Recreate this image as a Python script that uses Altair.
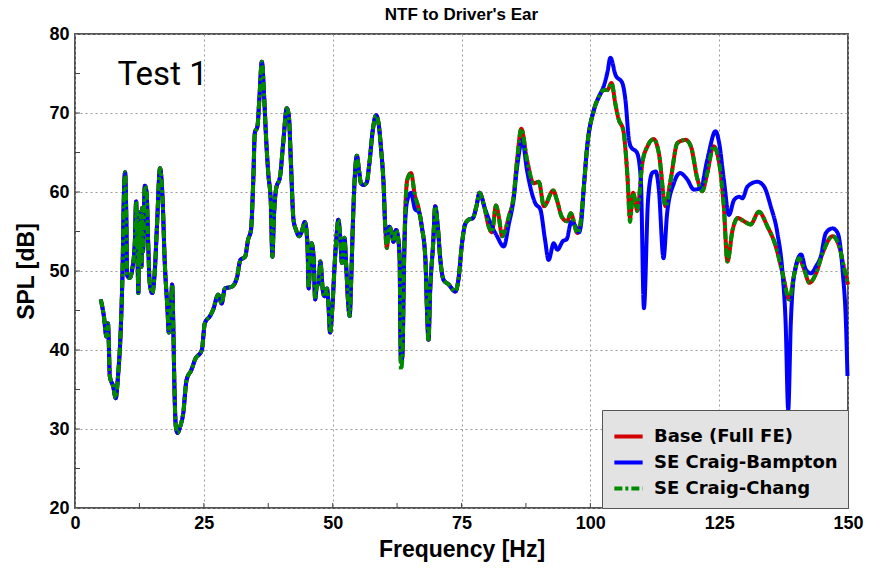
import altair as alt
import pandas as pd

# ---------------- data ----------------
series_names = ["Base (Full FE)", "SE Craig-Bampton", "SE Craig-Chang"]
series_colors = ["#d40000", "#0000ff", "#008a00"]

base_freq = [5.0, 5.6, 6.1, 6.4, 6.55, 6.75, 7.4, 7.9, 8.35, 8.9, 9.2, 9.5, 9.72, 9.98, 10.1, 10.6, 11.1, 11.6, 11.86, 12.1,
             12.3, 12.45, 12.6, 12.75, 12.9, 13.05, 13.2, 13.55, 13.9, 14.2, 14.5, 15.0, 15.5, 15.9, 16.5, 17.0, 17.4, 17.95, 18.2, 18.6,
             18.85, 19.1, 19.25, 19.57, 19.9, 20.4, 21.0, 21.65, 22.6, 23.3, 24.6, 25.2, 26.2, 26.8, 27.8, 28.45, 29.1, 30.4, 31.4, 32.1,
             33.0, 33.6, 34.15, 34.6, 34.9, 35.4, 35.8, 36.25, 36.7, 37.1, 37.5, 38.0, 38.3, 38.6, 39.0, 39.8, 40.4, 41.1, 41.5, 41.9,
             42.4, 42.9, 43.5, 44.0, 44.6, 45.1, 45.35, 45.6, 45.9, 46.3, 46.6, 46.9, 47.3, 47.6, 48.1, 48.4, 48.9, 49.2, 49.5, 49.95,
             50.4, 50.8, 51.1, 51.45, 51.8, 52.3, 52.6, 53.0, 53.3, 53.6, 53.9, 54.3, 54.7, 55.1, 55.5, 56.0, 56.6, 57.1, 57.8, 58.4,
             58.9, 59.4, 59.9, 60.2, 60.5, 61.0, 61.4, 61.8, 62.3, 62.7, 63.0, 63.1, 63.25, 63.45, 63.6, 63.75, 64.1, 64.5, 65.2, 66.0,
             66.4, 67.3, 68.0, 68.3, 68.6, 68.9, 69.5, 69.9, 70.4, 70.9, 71.5, 72.5, 73.8, 74.4, 75.1, 75.7, 76.4, 77.2, 77.9, 78.5,
             79.4, 80.3, 80.9, 81.7, 82.2, 82.9, 84.2, 85.1, 85.8, 86.6, 87.7, 89.0, 90.0, 91.0, 92.8, 93.5, 94.5, 95.5, 96.2, 97.5,
             98.1, 98.7, 99.4, 100.7, 101.7, 102.6, 103.3, 104.1, 104.9, 105.5, 106.4, 107.2, 107.7, 108.3, 108.8, 109.1, 110.1, 111.1, 112.3, 113.3,
             114.6, 115.6, 116.9, 118.5, 119.5, 120.8, 121.7, 122.7, 123.9, 125.0, 125.9, 126.6, 127.6, 128.6, 129.8, 131.1, 132.7, 134.4, 136.0, 137.3,
             138.6, 139.6, 140.5, 141.5, 142.5, 143.8, 145.1, 147.0, 148.3, 149.3, 150.0]
base_spl = [46.4, 44.3, 41.7, 43.4, 41.1, 36.7, 35.4, 33.9, 36.7, 43.0, 49.3, 59.9, 62.5, 55.6, 49.5, 49.1, 50.2, 53.5, 58.8, 53.1,
            47.2, 56.0, 51.0, 57.5, 50.5, 58.0, 52.5, 60.8, 59.9, 53.5, 48.5, 47.2, 50.2, 55.6, 63.0, 59.0, 51.4, 45.1, 42.2, 45.1,
            48.3, 42.2, 36.7, 30.3, 29.5, 30.3, 32.0, 36.2, 37.5, 38.8, 40.0, 43.4, 44.3, 45.1, 47.0, 45.9, 47.8, 48.0, 49.1, 51.4,
            51.8, 54.0, 55.2, 61.6, 67.5, 68.3, 72.1, 76.5, 72.1, 66.6, 62.4, 58.6, 51.8, 56.9, 60.3, 62.0, 66.2, 70.6, 69.6, 63.7,
            56.5, 55.2, 54.4, 55.0, 56.2, 53.5, 47.8, 51.0, 53.5, 51.8, 46.4, 48.0, 48.5, 51.2, 47.5, 46.8, 47.8, 45.5, 42.2, 45.5,
            51.0, 54.8, 56.5, 54.4, 51.0, 54.2, 51.0, 46.0, 44.3, 49.0, 55.5, 62.0, 64.6, 62.8, 61.1, 60.9, 61.2, 63.5, 67.9, 69.7,
            68.7, 65.4, 60.7, 55.5, 52.9, 55.6, 55.0, 53.7, 55.2, 54.2, 51.5, 44.7, 38.5, 38.8, 40.5, 47.2, 57.8, 61.6, 62.4, 59.4,
            58.6, 55.6, 51.4, 45.1, 41.3, 47.2, 53.5, 58.2, 55.6, 51.4, 48.9, 48.3, 47.4, 48.9, 53.5, 55.9, 56.5, 56.7, 58.2, 59.9,
            58.2, 55.6, 54.9, 58.3, 57.0, 54.4, 56.9, 59.4, 64.1, 68.0, 64.1, 61.1, 61.3, 58.2, 60.2, 59.0, 56.8, 56.3, 57.3, 54.8,
            56.1, 60.3, 65.8, 70.4, 72.1, 72.9, 72.9, 73.8, 71.0, 69.2, 67.8, 62.0, 56.7, 59.9, 58.5, 57.6, 63.7, 65.8, 66.7, 64.9,
            58.2, 61.6, 66.2, 66.6, 65.8, 61.6, 60.1, 62.4, 65.8, 63.7, 58.2, 51.2, 55.2, 56.7, 56.3, 55.9, 57.5, 55.6, 53.1, 49.7,
            46.4, 49.7, 51.6, 50.2, 48.5, 49.7, 52.3, 54.4, 53.1, 50.2, 48.3]

bampton_freq = [5.0, 5.6, 6.1, 6.4, 6.55, 6.75, 7.4, 7.9, 8.35, 8.9, 9.2, 9.5, 9.72, 9.98, 10.1, 10.6, 11.1, 11.6, 11.86, 12.1,
                12.3, 12.45, 12.6, 12.75, 12.9, 13.05, 13.2, 13.55, 13.9, 14.2, 14.5, 15.0, 15.5, 15.9, 16.5, 17.0, 17.4, 17.95, 18.2, 18.6,
                18.85, 19.1, 19.25, 19.57, 19.9, 20.4, 21.0, 21.65, 22.6, 23.3, 24.6, 25.2, 26.2, 26.8, 27.8, 28.45, 29.1, 30.4, 31.4, 32.1,
                33.0, 33.6, 34.15, 34.6, 34.9, 35.4, 35.8, 36.25, 36.7, 37.1, 37.5, 38.0, 38.3, 38.6, 39.0, 39.8, 40.4, 41.1, 41.5, 41.9,
                42.4, 42.9, 43.5, 44.0, 44.6, 45.1, 45.35, 45.6, 45.9, 46.3, 46.6, 46.9, 47.3, 47.6, 48.1, 48.4, 48.9, 49.2, 49.5, 49.95,
                50.4, 50.8, 51.1, 51.45, 51.8, 52.3, 52.6, 53.0, 53.3, 53.6, 53.9, 54.3, 54.7, 55.1, 55.5, 56.0, 56.6, 57.1, 57.8, 58.4,
                58.9, 59.4, 59.9, 60.2, 60.5, 61.0, 61.4, 61.8, 62.3, 62.7, 63.0, 63.1, 63.25, 63.45, 63.6, 63.75, 64.1, 64.5, 65.2, 66.0,
                66.7, 67.3, 68.0, 68.3, 68.6, 68.9, 69.5, 69.9, 70.4, 70.9, 71.5, 72.5, 73.8, 74.4, 75.1, 75.7, 76.4, 77.2, 77.9, 78.5,
                79.6, 80.6, 81.9, 83.2, 84.2, 85.1, 85.8, 86.8, 87.7, 89.3, 90.3, 91.2, 91.9, 92.9, 93.6, 94.7, 95.4, 96.3, 97.0, 97.8,
                98.3, 98.7, 99.4, 100.7, 101.7, 102.6, 103.3, 103.9, 104.9, 106.2, 106.8, 107.5, 107.8, 109.1, 109.8, 110.4, 111.2, 112.0, 112.7, 113.3,
                114.2, 114.9, 116.2, 117.4, 118.8, 120.1, 121.4, 122.7, 124.3, 125.0, 125.9, 126.9, 127.9, 128.9, 129.5, 130.5, 132.4, 133.7, 135.0, 136.3,
                137.3, 137.9, 138.4, 138.9, 139.6, 140.9, 141.8, 142.8, 143.8, 144.7, 145.7, 147.0, 148.0, 149.0, 149.6, 149.9]
bampton_spl = [46.4, 44.3, 41.7, 43.4, 41.1, 36.7, 35.4, 33.9, 36.7, 43.0, 49.3, 59.9, 62.5, 55.6, 49.5, 49.1, 50.2, 53.5, 58.8, 53.1,
               47.2, 56.0, 51.0, 57.5, 50.5, 58.0, 52.5, 60.8, 59.9, 53.5, 48.5, 47.2, 50.2, 55.6, 63.0, 59.0, 51.4, 45.1, 42.2, 45.1,
               48.3, 42.2, 36.7, 30.3, 29.5, 30.3, 32.0, 36.2, 37.5, 38.8, 40.0, 43.4, 44.3, 45.1, 47.0, 45.9, 47.8, 48.0, 49.1, 51.4,
               51.8, 54.0, 55.2, 61.6, 67.5, 68.3, 72.1, 76.5, 72.1, 66.6, 62.4, 58.6, 51.8, 56.9, 60.3, 62.0, 66.2, 70.6, 69.6, 63.7,
               56.5, 55.2, 54.4, 55.0, 56.2, 53.5, 47.8, 51.0, 53.5, 51.8, 46.4, 48.0, 48.5, 51.2, 47.5, 46.8, 47.8, 45.5, 42.2, 45.5,
               51.0, 54.8, 56.5, 54.4, 51.0, 54.2, 51.0, 46.0, 44.3, 49.0, 55.5, 62.0, 64.6, 62.8, 61.1, 60.9, 61.2, 63.5, 67.9, 69.7,
               68.7, 65.4, 60.7, 55.8, 54.5, 55.6, 55.0, 53.7, 55.2, 54.2, 51.5, 44.7, 38.5, 38.8, 40.5, 47.2, 56.5, 59.0, 59.9, 57.8,
               57.5, 55.6, 51.4, 45.1, 41.3, 47.2, 53.5, 58.2, 55.6, 51.4, 48.9, 48.3, 47.4, 48.9, 53.5, 55.9, 56.5, 56.7, 58.2, 59.9,
               57.8, 56.1, 54.4, 53.1, 56.0, 59.0, 63.2, 66.6, 62.8, 58.6, 57.8, 54.0, 51.4, 53.5, 52.7, 53.8, 54.0, 56.2, 55.8, 54.9,
               56.5, 60.3, 65.8, 70.4, 72.1, 73.4, 75.1, 77.0, 74.8, 73.8, 71.7, 66.6, 65.8, 64.9, 61.6, 45.3, 59.0, 62.4, 62.6, 60.3,
               51.6, 57.3, 61.1, 62.4, 61.6, 60.3, 60.5, 64.1, 67.7, 66.2, 61.6, 57.1, 59.0, 59.4, 59.2, 60.7, 61.3, 60.7, 58.2, 54.8,
               49.7, 43.4, 32.4, 43.4, 49.7, 52.1, 50.2, 49.7, 50.6, 51.8, 54.8, 55.4, 54.8, 49.7, 43.4, 36.7]

chang_freq = list(base_freq)
chang_spl = [46.4, 44.3, 41.7, 43.4, 41.1, 36.7, 35.4, 33.9, 36.7, 43.0, 49.3, 59.9, 62.5, 55.6, 49.5, 49.1, 50.2, 53.5, 58.8, 53.1,
             47.2, 56.0, 51.0, 57.5, 50.5, 58.0, 52.5, 60.8, 59.9, 53.5, 48.5, 47.2, 50.2, 55.6, 63.0, 59.0, 51.4, 45.1, 42.2, 45.1,
             48.3, 42.2, 36.7, 30.3, 29.5, 30.3, 32.0, 36.2, 37.5, 38.8, 40.0, 43.4, 44.3, 45.1, 47.0, 45.9, 47.8, 48.0, 49.1, 51.4,
             51.8, 54.0, 55.2, 61.6, 67.5, 68.3, 72.1, 76.5, 72.1, 66.6, 62.4, 58.6, 51.8, 56.9, 60.3, 62.0, 66.2, 70.6, 69.6, 63.7,
             56.5, 55.2, 54.4, 55.0, 56.2, 53.5, 47.8, 51.0, 53.5, 51.8, 46.4, 48.0, 48.5, 51.2, 47.5, 46.8, 47.8, 45.5, 42.2, 45.5,
             51.0, 54.8, 56.5, 54.4, 51.0, 54.2, 51.0, 46.0, 44.3, 49.0, 55.5, 62.0, 64.6, 62.8, 61.1, 60.9, 61.2, 63.5, 67.9, 69.7,
             68.7, 65.4, 60.7, 55.5, 52.9, 55.6, 55.0, 53.7, 55.2, 54.2, 51.5, 44.7, 37.5, 38.3, 40.5, 47.2, 57.8, 61.6, 62.4, 59.4,
             58.6, 55.6, 51.4, 45.1, 41.0, 47.2, 53.5, 58.2, 55.6, 51.4, 48.9, 48.3, 47.4, 48.9, 53.5, 55.9, 56.5, 56.7, 58.2, 59.9,
             58.2, 55.6, 54.9, 58.3, 57.0, 54.4, 56.9, 59.4, 64.1, 68.0, 64.1, 61.1, 61.3, 58.2, 60.2, 59.0, 56.8, 56.3, 57.3, 54.8,
             56.1, 60.3, 65.8, 70.4, 72.1, 72.9, 72.9, 73.8, 71.0, 69.2, 67.8, 62.0, 56.2, 59.9, 58.5, 57.6, 63.7, 65.8, 66.7, 64.9,
             58.2, 61.6, 66.2, 66.6, 65.8, 61.6, 60.1, 62.4, 65.8, 63.7, 58.2, 51.2, 55.2, 56.7, 56.3, 55.9, 57.5, 55.6, 53.1, 49.7,
             46.4, 49.7, 51.6, 50.2, 48.5, 49.7, 52.3, 54.4, 53.1, 50.2, 48.3]

x_tick_values = [0, 25, 50, 75, 100, 125, 150]
y_tick_values = [20, 30, 40, 50, 60, 70, 80]
x_minor_ticks = [12.5, 25, 37.5, 50, 62.5, 75, 87.5, 100, 112.5, 125, 137.5]
y_minor_ticks = [25, 30, 35, 40, 45, 50, 55, 60, 65, 70, 75]

annotation_text = ["Test 1"]
annotation_freq = [17.0]
annotation_spl = [74.8]

chart_title = "NTF to Driver's Ear"
x_title = "Frequency [Hz]"
y_title = "SPL [dB]"

# ---------------- build table ----------------
rows = []
for name, fs, vs in [(series_names[0], base_freq, base_spl),
                     (series_names[1], bampton_freq, bampton_spl),
                     (series_names[2], chang_freq, chang_spl)]:
    for f, v in zip(fs, vs):
        rows.append({"freq": f, "spl": v, "series": name})
df = pd.DataFrame(rows)

AXIS_FONT = "Liberation Sans Narrow, Arial Narrow, Liberation Sans, sans-serif"
LEGEND_FONT = "DejaVu Sans"
W, H = 773, 474

x_scale = alt.Scale(domain=[0, 150], nice=False, zero=False)
y_scale = alt.Scale(domain=[20, 80], nice=False, zero=False)
color_scale = alt.Scale(domain=series_names, range=series_colors)
dash_scale = alt.Scale(domain=series_names, range=[[1, 0], [1, 0], [8, 3, 3, 3]])

x_enc = alt.X("freq:Q", scale=x_scale,
              axis=alt.Axis(values=x_tick_values, title=x_title, format="d", labelFlush=False))
y_enc = alt.Y("spl:Q", scale=y_scale,
              axis=alt.Axis(values=y_tick_values, title=y_title, format="d", labelFlush=False))


def line_layer(name, width):
    return alt.Chart(df).transform_filter(alt.datum.series == name).mark_line(
        strokeWidth=width, interpolate="monotone", strokeCap="butt"
    ).encode(
        x=x_enc,
        y=y_enc,
        color=alt.Color("series:N", scale=color_scale, legend=alt.Legend(title=None)),
        strokeDash=alt.StrokeDash("series:N", scale=dash_scale, legend=alt.Legend(title=None)),
    )


layers = [line_layer(series_names[0], 4), line_layer(series_names[1], 4), line_layer(series_names[2], 4)]

ann_df = pd.DataFrame({"freq": annotation_freq, "spl": annotation_spl, "label": annotation_text})
ann = alt.Chart(ann_df).mark_text(font="Roboto", fontSize=33, color="black", align="center",
                                  baseline="middle").encode(
    x=alt.X("freq:Q", scale=x_scale), y=alt.Y("spl:Q", scale=y_scale), text="label:N")

xt_df = pd.DataFrame({"t": x_minor_ticks})
xticks = alt.Chart(xt_df).mark_rule(color="#444444", strokeWidth=1).encode(
    x=alt.X("t:Q", scale=x_scale), y=alt.value(H - 5), y2=alt.value(H))
yt_df = pd.DataFrame({"t": y_minor_ticks})
yticks = alt.Chart(yt_df).mark_rule(color="#444444", strokeWidth=1).encode(
    y=alt.Y("t:Q", scale=y_scale), x=alt.value(0), x2=alt.value(5))

chart = alt.layer(xticks, yticks, *layers, ann).properties(
    width=W, height=H,
    title=alt.TitleParams(chart_title, font=AXIS_FONT, fontSize=17, fontWeight="bold",
                          color="black", offset=1, anchor="middle"),
    autosize=alt.AutoSizeParams(type="none"),
    padding={"left": 75, "top": 34, "right": 37, "bottom": 61},
).configure_view(
    stroke="#555555", strokeWidth=2
).configure_axis(
    grid=True, gridColor="#9a9a9a", gridDash=[2, 3], gridWidth=1,
    ticks=False, domain=False,
    labelFont=AXIS_FONT, labelFontSize=18, labelFontWeight="bold", labelColor="black",
    titleFont=AXIS_FONT, titleFontSize=23, titleFontWeight="bold", titleColor="black",
    labelPadding=6,
).configure_axisX(titlePadding=6).configure_axisY(titlePadding=10).configure_legend(
    orient="bottom-right", offset=0, fillColor="#e3e3e3", strokeColor="#555555",
    padding=10, labelFont=LEGEND_FONT, labelFontSize=18, labelFontWeight="bold", labelColor="black",
    labelLimit=400,
    symbolType="stroke", symbolSize=800, symbolStrokeWidth=4, rowPadding=0, labelOffset=9,
    cornerRadius=0,
)

chart.save("out.html", embed_options={"renderer": "svg", "actions": False})
